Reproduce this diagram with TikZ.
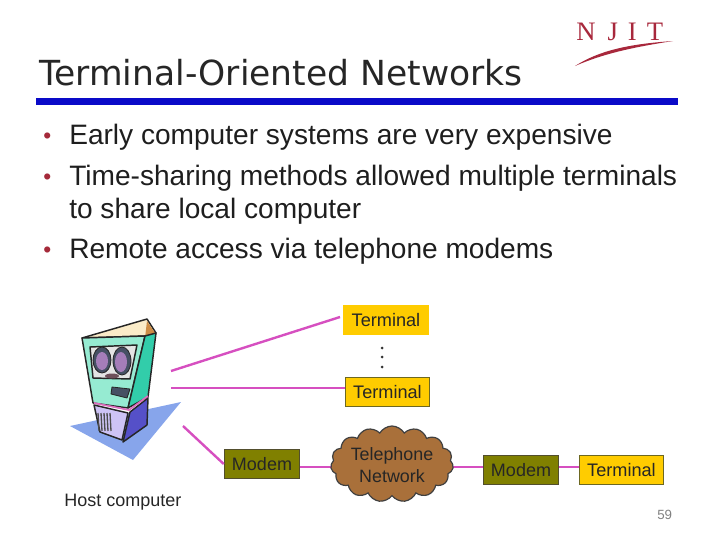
\documentclass[tikz,border=0pt]{standalone}
\usepackage{fontspec}
\setmainfont{Liberation Sans}
\newfontfamily\titlefont{DejaVu Sans}
\newfontfamily\logofont{Liberation Serif}
\usetikzlibrary{shapes.symbols,backgrounds}
\definecolor{termfill}{HTML}{FFCC00}
\definecolor{modemfill}{HTML}{808000}
\definecolor{cloudfill}{HTML}{A9703A}
\definecolor{linkpink}{HTML}{D64FC0}
\definecolor{barblue}{HTML}{0A0AC8}
\definecolor{bulletred}{HTML}{A52A3A}
\definecolor{njit}{HTML}{A8283C}
\definecolor{bodyink}{HTML}{1E1E1E}
\definecolor{shadowblue}{RGB}{135,165,235}
\definecolor{topcream}{RGB}{250,235,200}
\definecolor{toptan}{RGB}{205,140,70}
\definecolor{frontmint}{RGB}{150,235,210}
\definecolor{sidemint}{RGB}{50,205,170}
\definecolor{screengrey}{RGB}{228,228,228}
\definecolor{eyepurple}{RGB}{165,125,185}
\definecolor{eyedark}{RGB}{70,80,100}
\definecolor{mouthbrown}{RGB}{110,80,90}
\definecolor{basefront}{RGB}{205,195,245}
\definecolor{baseside}{RGB}{85,80,200}
\definecolor{trimpink}{RGB}{220,110,190}
\tikzset{
  x=0.75pt,y=-0.75pt,
  termbox/.style={draw=#1,line width=0.9pt,fill=termfill,minimum width=63.5pt,minimum height=22pt,inner sep=0pt,font=\fontsize{13.6}{15}\selectfont,text=black!85},
  termbox/.default=olive!70!black,
  modembox/.style={draw=olive!45!black,line width=0.9pt,fill=modemfill,minimum width=56.5pt,minimum height=22pt,inner sep=0pt,font=\fontsize{13.5}{15}\selectfont,text=black!85},
  link/.style={draw=linkpink,line width=1.8pt},
  bodytext/.style={anchor=base west,inner sep=0pt,text=bodyink,font=\fontsize{21.07}{24}\selectfont},
  bulletmark/.style={anchor=base west,inner sep=0pt,text=bulletred,font=\fontsize{17}{20}\selectfont},
  ink/.style={draw=black!85,line width=1.1pt,line join=round},
  thin ink/.style={draw=black!85,line width=0.6pt,line join=round},
}
\begin{document}
\begin{tikzpicture}
\useasboundingbox (0,0) rectangle (720,539);
% logo
\node[anchor=base west,inner sep=0pt,text=njit,font=\logofont\fontsize{20}{20}\selectfont] (logo) at (576,40) {N\hspace{9pt}J\hspace{7.5pt}I\hspace{7.5pt}T};
\fill[njit] (575,66) .. controls (600,50) and (630,44) .. (673,41) .. controls (635,47) and (605,53) .. (575,66) -- cycle;
% title
\node[anchor=base west,inner sep=0pt,text=black!85,font=\titlefont\fontsize{25.9}{30}\selectfont] (title) at (39,85) {Terminal-Oriented Networks};
\fill[barblue] (36,98) rectangle (678,105);
% bullets
\node[bulletmark] (b1) at (43,143) {•};
\node[bodytext] (t1) at (69,144) {Early computer systems are very expensive};
\node[bulletmark] (b2) at (43,184) {•};
\node[bodytext] (t2) at (69,185) {Time-sharing methods allowed multiple terminals};
\node[bodytext] (t2b) at (69,218) {to share local computer};
\node[bulletmark] (b3) at (43,257) {•};
\node[bodytext] (t3) at (69,258) {Remote access via telephone modems};
% host computer
\fill[shadowblue] (70,426) -- (181,402) -- (133,460) -- cycle;
\filldraw[ink,fill=topcream] (82,338) -- (147,319) -- (156,333) -- (145,336) -- cycle;
\fill[toptan] (147,321) -- (155,333) -- (145,338) -- cycle;
\filldraw[ink,fill=frontmint] (82,338) -- (145,336) -- (128,408) -- (93,403) -- cycle;
\filldraw[ink,fill=sidemint] (145,336) -- (156,333) -- (148,397) -- (128,408) -- cycle;
\filldraw[ink,fill=screengrey] (90,347) -- (137,345) -- (130,379) -- (93,378) -- cycle;
\filldraw[thin ink,fill=eyedark] (102,360) ellipse [x radius=9,y radius=13];
\fill[eyepurple] (102,361) ellipse [x radius=6,y radius=9];
\filldraw[thin ink,fill=eyedark] (122,361) ellipse [x radius=9,y radius=14];
\fill[eyepurple] (121,362) ellipse [x radius=6,y radius=10];
\fill[mouthbrown] (112,376) ellipse [x radius=7,y radius=2.5];
\filldraw[thin ink,fill=eyedark] (112,387) -- (130,389) -- (127,398) -- (111,394) -- cycle;
\filldraw[ink,fill=basefront] (94,405) -- (128,413) -- (122,440) -- (100,432) -- cycle;
\filldraw[ink,fill=baseside] (130,412) -- (148,398) -- (147,425) -- (123,442) -- cycle;
\foreach \xa in {98,101,104,107,110}{\draw[black!70,line width=1pt] (\xa,413) -- (\xa+1,431);}
\draw[draw=trimpink,line width=1.3pt] (94,403) -- (129,410) -- (148,396);
% nodes
\node[termbox=termfill] (term1) at (386,320) {Terminal};
\node[termbox] (term2) at (387.5,392) {Terminal};
\node[modembox] (modem1) at (262,464) {Modem};
\node[modembox] (modem2) at (521,470) {Modem};
\node[termbox] (term3) at (621.5,470) {Terminal};
\node[cloud,cloud puffs=15,cloud puff arc=120,aspect=1.5,draw=black!75,line width=0.9pt,fill=cloudfill,inner sep=0pt,minimum width=92pt,minimum height=57pt] (net) at (392,464) {};
\node[align=center,inner sep=0pt,text=black!85,font=\fontsize{13.4}{16.5}\selectfont] (netlabel) at (392,465) {Telephone\\Network};
\coordinate (h1) at (171,371);
\coordinate (h2) at (171,388);
\coordinate (h3) at (183,426);
\coordinate (e1) at (340,317);
\coordinate (lineA) at (0,467);
\begin{pgfonlayer}{background}
\draw[link] (modem1.east |- lineA) -- (net.center |- lineA) -- (modem2.west |- lineA);
\end{pgfonlayer}
\draw[link] (h1) -- (e1);
\draw[link] (h2) -- (h2 -| term2.west);
\draw[link] (h3) -- (modem1.west);
\draw[link] (modem2.east |- lineA) -- (term3.west |- lineA);
% dots
\foreach \yd in {348,357,367}{\fill[black!80] (382,\yd) circle (1.5);}
% labels
\node[anchor=base west,inner sep=0pt,text=black!85,font=\fontsize{13.5}{15}\selectfont] (hostlabel) at (64,506) {Host computer};
\node[anchor=base west,inner sep=0pt,text=black!50,font=\fontsize{10}{12}\selectfont] (pagenum) at (657,519) {59};
\end{tikzpicture}
\end{document}
